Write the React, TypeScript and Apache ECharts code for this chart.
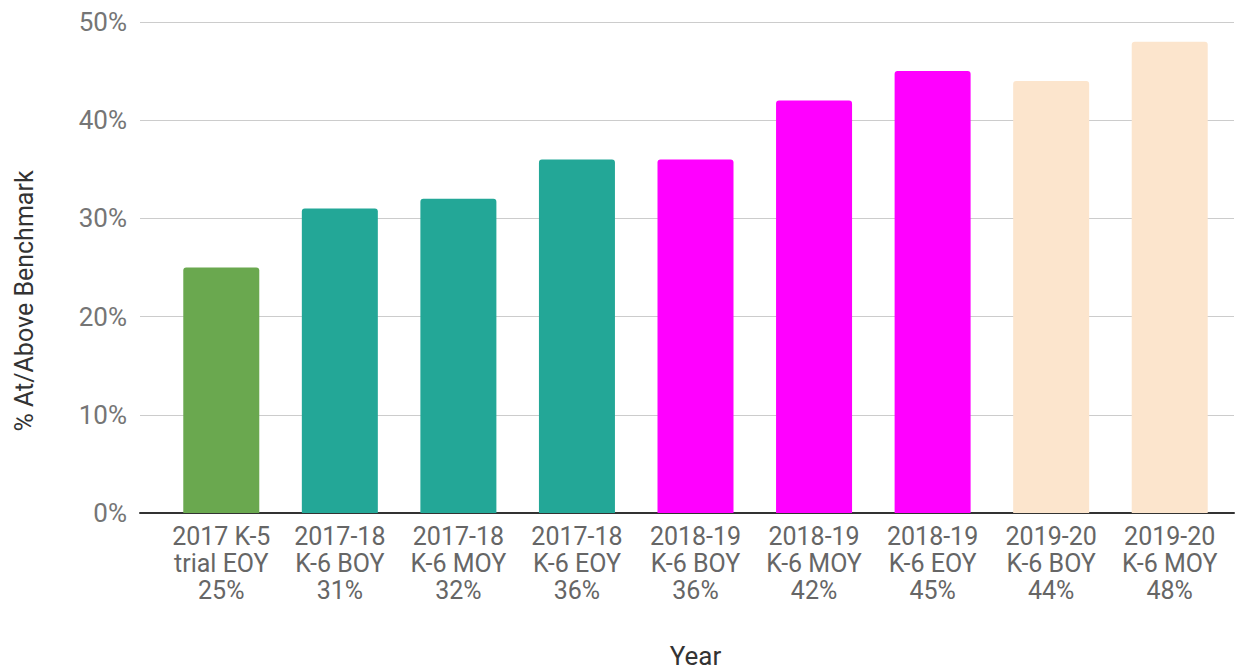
import React, { useEffect, useRef } from "react";
import * as echarts from "echarts";

const categories = [
  "2017 K-5\ntrial EOY",
  "2017-18\nK-6 BOY",
  "2017-18\nK-6 MOY",
  "2017-18\nK-6 EOY",
  "2018-19\nK-6 BOY",
  "2018-19\nK-6 MOY",
  "2018-19\nK-6 EOY",
  "2019-20\nK-6 BOY",
  "2019-20\nK-6 MOY",
];
const values = [0.25, 0.31, 0.32, 0.36, 0.36, 0.42, 0.45, 0.44, 0.48];
const barColors = [
  "#6aa84f",
  "#23a797",
  "#23a797",
  "#23a797",
  "#ff00ff",
  "#ff00ff",
  "#ff00ff",
  "#fce5cd",
  "#fce5cd",
];
const yTicks = [0, 0.1, 0.2, 0.3, 0.4, 0.5];
const xName = "Year";
const yName = "% At/Above Benchmark";

const FONT = "Roboto";

export default function App() {
  const ref = useRef<HTMLDivElement>(null);
  useEffect(() => {
    if (!ref.current) return;
    const chart = echarts.init(ref.current, undefined, { renderer: "svg" });
    const labels = categories.map(
      (c, i) => `${c}\n${Math.round(values[i] * 100)}%`
    );
    const yMin = yTicks[0];
    const yMax = yTicks[yTicks.length - 1];
    const yInterval = yTicks[1] - yTicks[0];
    chart.setOption({
      animation: false,
      backgroundColor: "#ffffff",
      textStyle: { fontFamily: FONT },
      grid: [
        { left: 140, right: 1, top: 22, bottom: 157, outerBoundsMode: "none", containLabel: false },
        { left: 162, right: 6, top: 22, bottom: 157, outerBoundsMode: "none", containLabel: false },
      ],
      xAxis: [
        {
          gridIndex: 0,
          type: "value",
          min: 0,
          max: 1,
          axisLine: { show: true, lineStyle: { color: "#333333", width: 2 } },
          axisTick: { show: false },
          axisLabel: { show: false },
          splitLine: { show: false },
        },
        {
          gridIndex: 1,
          type: "category",
          data: labels,
          name: xName,
          nameLocation: "middle",
          nameGap: 130,
          nameTextStyle: { color: "#333333", fontSize: 26, fontFamily: FONT },
          axisLine: { show: false },
          axisTick: { show: false },
          axisLabel: {
            color: "#666666",
            fontSize: 25,
            lineHeight: 27,
            margin: 10,
            interval: 0,
            fontFamily: FONT,
          },
        },
      ],
      yAxis: [
        {
          gridIndex: 0,
          type: "value",
          min: yMin,
          max: yMax,
          interval: yInterval,
          axisLine: { show: false },
          axisTick: { show: false },
          axisLabel: {
            color: "#757575",
            fontSize: 26,
            margin: 13,
            fontFamily: FONT,
            formatter: (v: number) => `${Math.round(v * 100)}%`,
          },
          splitLine: { lineStyle: { color: "#cccccc", width: 1 } },
        },
        {
          gridIndex: 1,
          type: "value",
          min: yMin,
          max: yMax,
          interval: yInterval,
          show: false,
          splitLine: { show: false },
        },
      ],
      graphic: [
        {
          type: "text",
          x: 24,
          y: 301,
          rotation: Math.PI / 2,
          style: {
            text: yName,
            fill: "#333333",
            font: `25px ${FONT}`,
            align: "center",
            verticalAlign: "middle",
          },
        },
      ],
      series: [
        {
          type: "bar",
          xAxisIndex: 1,
          yAxisIndex: 1,
          barWidth: 76,
          data: values.map((v, i) => ({
            value: v,
            itemStyle: { color: barColors[i], borderRadius: [3, 3, 0, 0] },
          })),
        },
      ],
    });
    return () => chart.dispose();
  }, []);
  return (
    <div
      ref={ref}
      style={{ position: "absolute", left: 0, top: 0, width: 1235, height: 670 }}
    />
  );
}
